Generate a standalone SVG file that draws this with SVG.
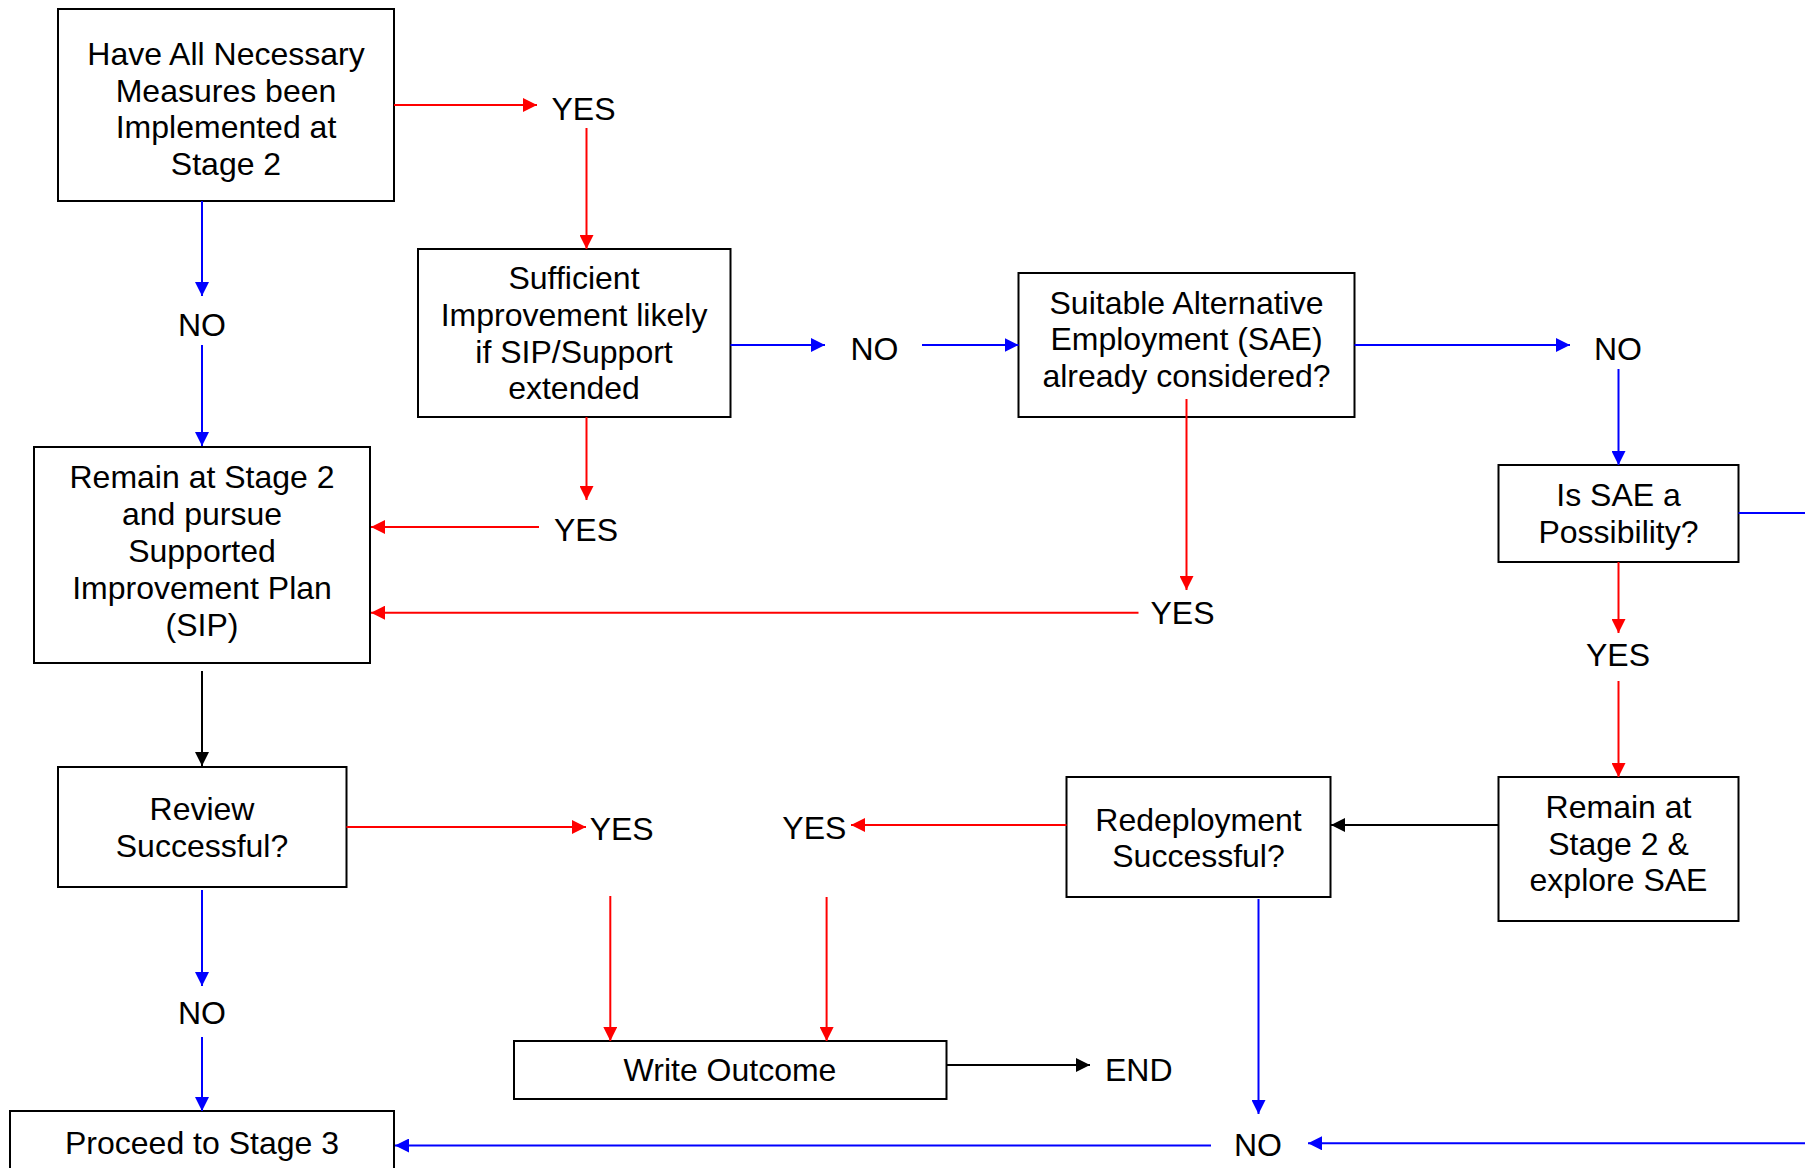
<svg xmlns="http://www.w3.org/2000/svg" width="1805" height="1168" viewBox="0 0 1805 1168">
<style>
.box{fill:#fff;stroke:#000;stroke-width:2}
text{font-family:"Liberation Sans",Arial,Helvetica,sans-serif;font-size:32px;fill:#000;text-anchor:middle}
.r{stroke:#f00;stroke-width:2;fill:none}
.b{stroke:#00f;stroke-width:2;fill:none}
.k{stroke:#000;stroke-width:2;fill:none}
</style>
<defs>
<marker id="ar" viewBox="0 0 14 14" refX="14" refY="7" markerWidth="14" markerHeight="14" markerUnits="userSpaceOnUse" orient="auto"><path d="M0,0 L14,7 L0,14 z" fill="#f00"/></marker>
<marker id="ab" viewBox="0 0 14 14" refX="14" refY="7" markerWidth="14" markerHeight="14" markerUnits="userSpaceOnUse" orient="auto"><path d="M0,0 L14,7 L0,14 z" fill="#00f"/></marker>
<marker id="ak" viewBox="0 0 14 14" refX="14" refY="7" markerWidth="14" markerHeight="14" markerUnits="userSpaceOnUse" orient="auto"><path d="M0,0 L14,7 L0,14 z" fill="#000"/></marker>
</defs>
<rect width="1805" height="1168" fill="#fff"/>
<g id="n1"><rect class="box" x="58" y="9" width="336" height="192"/>
<text x="226" y="65">Have All Necessary</text><text x="226" y="101.5">Measures been</text><text x="226" y="138">Implemented at</text><text x="226" y="175">Stage 2</text></g>
<g id="n2"><rect class="box" x="418" y="249" width="312.5" height="168"/>
<text x="574" y="289">Sufficient</text><text x="574" y="326">Improvement likely</text><text x="574" y="362.5">if SIP/Support</text><text x="574" y="399">extended</text></g>
<g id="n3"><rect class="box" x="1018.5" y="273" width="336" height="144"/>
<text x="1186.5" y="313.5">Suitable Alternative</text><text x="1186.5" y="350">Employment (SAE)</text><text x="1186.5" y="387">already considered?</text></g>
<g id="n4"><rect class="box" x="1498.5" y="465" width="240" height="97"/>
<text x="1618.5" y="506">Is SAE a</text><text x="1618.5" y="542.5">Possibility?</text></g>
<g id="n5"><rect class="box" x="34" y="447" width="336" height="216"/>
<text x="202" y="488">Remain at Stage 2</text><text x="202" y="525">and pursue</text><text x="202" y="562">Supported</text><text x="202" y="599">Improvement Plan</text><text x="202" y="636">(SIP)</text></g>
<g id="n6"><rect class="box" x="58" y="767" width="288.5" height="120"/>
<text x="202" y="820">Review</text><text x="202" y="856.5">Successful?</text></g>
<g id="n7"><rect class="box" x="10" y="1111" width="384" height="70"/>
<text x="202" y="1153.5">Proceed to Stage 3</text></g>
<g id="n8"><rect class="box" x="514" y="1041" width="432.5" height="58"/>
<text x="730" y="1081">Write Outcome</text></g>
<g id="n9"><rect class="box" x="1066.5" y="777" width="264" height="120"/>
<text x="1198.5" y="831">Redeployment</text><text x="1198.5" y="867">Successful?</text></g>
<g id="n10"><rect class="box" x="1498.5" y="777" width="240" height="144"/>
<text x="1618.5" y="818">Remain at</text><text x="1618.5" y="854.5">Stage 2 &amp;</text><text x="1618.5" y="891">explore SAE</text></g>
<g id="connectors">
<path class="r" d="M394,105 H537" marker-end="url(#ar)"/>
<path class="r" d="M586.5,128 V249" marker-end="url(#ar)"/>
<path class="b" d="M202,201 V296" marker-end="url(#ab)"/>
<path class="b" d="M202,345 V446" marker-end="url(#ab)"/>
<path class="b" d="M730.5,345 H825" marker-end="url(#ab)"/>
<path class="b" d="M922,345 H1018.5" marker-end="url(#ab)"/>
<path class="b" d="M1354.5,345 H1570" marker-end="url(#ab)"/>
<path class="b" d="M1618.5,369 V465" marker-end="url(#ab)"/>
<path class="b" d="M1738.5,513 H1805"/>
<path class="r" d="M1186.5,399 V590" marker-end="url(#ar)"/>
<path class="r" d="M1138.5,612.7 H371" marker-end="url(#ar)"/>
<path class="r" d="M586.5,417 V500" marker-end="url(#ar)"/>
<path class="r" d="M539,527 H371" marker-end="url(#ar)"/>
<path class="r" d="M1618.5,562 V633" marker-end="url(#ar)"/>
<path class="r" d="M1618.5,681 V777" marker-end="url(#ar)"/>
<path class="k" d="M202,671 V766" marker-end="url(#ak)"/>
<path class="r" d="M346.5,827 H586" marker-end="url(#ar)"/>
<path class="r" d="M610.3,896 V1041" marker-end="url(#ar)"/>
<path class="b" d="M202,890 V986" marker-end="url(#ab)"/>
<path class="b" d="M202,1037 V1111" marker-end="url(#ab)"/>
<path class="k" d="M1498.5,825 H1331" marker-end="url(#ak)"/>
<path class="r" d="M1066.5,825 H851" marker-end="url(#ar)"/>
<path class="r" d="M826.6,897 V1041" marker-end="url(#ar)"/>
<path class="k" d="M946.5,1065 H1090" marker-end="url(#ak)"/>
<path class="b" d="M1258.5,899 V1114" marker-end="url(#ab)"/>
<path class="b" d="M1211,1145.5 H395" marker-end="url(#ab)"/>
<path class="b" d="M1805,1143.3 H1308" marker-end="url(#ab)"/>
</g>
<g id="labels">
<text x="583.5" y="120">YES</text>
<text x="202" y="336">NO</text>
<text x="874.5" y="360">NO</text>
<text x="1618" y="360">NO</text>
<text x="586" y="541">YES</text>
<text x="1182.5" y="624">YES</text>
<text x="1618" y="666">YES</text>
<text x="621.7" y="840">YES</text>
<text x="814.3" y="839">YES</text>
<text x="202" y="1023.5">NO</text>
<text x="1105" y="1081" style="text-anchor:start">END</text>
<text x="1258" y="1156">NO</text>
</g>
</svg>
